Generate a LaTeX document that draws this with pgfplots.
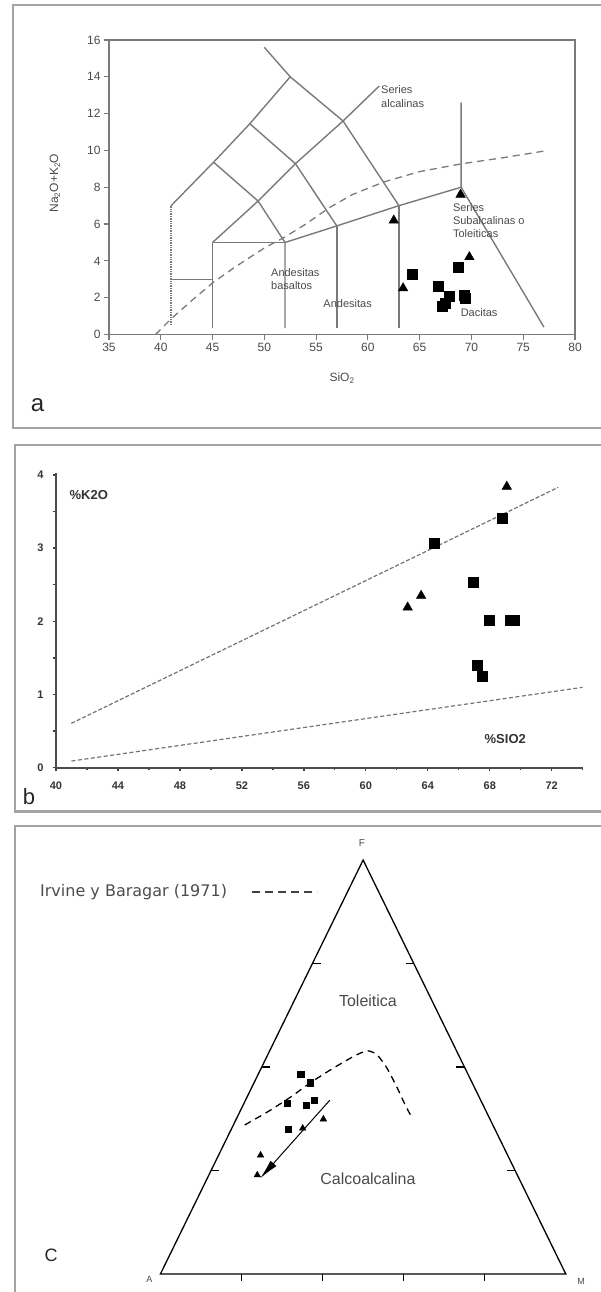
\documentclass[border=0pt]{standalone}
\usepackage{fontspec}
\setmainfont{Liberation Sans}
\newfontfamily\dejavu{DejaVu Sans}
\usepackage{pgfplots}
\pgfplotsset{compat=1.18}
\usetikzlibrary{arrows.meta}
\definecolor{lgray}{HTML}{7A7A7A}
\definecolor{framegray}{HTML}{A3A3A3}
\definecolor{txtgray}{HTML}{4A4A4A}

\begin{document}
\begin{tikzpicture}
\path[use as bounding box] (0pt,0pt) rectangle (601pt,-1292pt);
% panel frames
\draw[framegray, line width=2.5pt] (13pt,-5pt) rectangle (612pt,-428pt);
\draw[framegray, line width=2.5pt] (15pt,-445pt) rectangle (612pt,-811.7pt);
\draw[framegray, line width=2.5pt] (15pt,-826pt) rectangle (612pt,-1310pt);

% ---------------- a: TAS ----------------
\begin{axis}[
  at={(109pt,-334.5pt)}, anchor=south west,
  scale only axis, width=466pt, height=294.5pt,
  xmin=35, xmax=80, ymin=0, ymax=16,
  xtick={35,40,...,80}, ytick={0,2,...,16},
  tick align=outside, xtick pos=bottom, ytick pos=left,
  major tick length=5pt,
  axis line style={lgray, line width=1.6pt},
  tick style={lgray, line width=1.2pt},
  ticklabel style={font=\fontsize{12}{12}\selectfont, text=txtgray},
  /pgf/number format/assume math mode=true,
  xlabel={SiO\textsubscript{2}},
  ylabel={Na\textsubscript{2}O+K\textsubscript{2}O},
  label style={font=\fontsize{12}{12}\selectfont, text=txtgray},
  xlabel style={at={(axis description cs:0.5,-0.148)}, anchor=center},
  ylabel style={at={(axis description cs:-0.116,0.514)}, anchor=center},
  clip=false,
]
\addplot[lgray, line width=1.4pt] coordinates {(41,3) (45,3)};
\addplot[lgray, line width=1.4pt] coordinates {(45,0.35) (45,5) (52,5)};
\addplot[lgray, line width=1.4pt] coordinates {(52,0.35) (52,5) (57,5.9) (63,7) (69,8) (69,12.6)};
\addplot[lgray, line width=1.4pt] coordinates {(57,0.35) (57,5.9)};
\addplot[lgray, line width=1.4pt] coordinates {(63,0.35) (63,7)};
\addplot[lgray, line width=1.4pt] coordinates {(69,8) (77,0.4)};
\addplot[lgray, line width=1.4pt] coordinates {(41,7) (45.1,9.36) (48.6,11.45) (52.5,14)};
\addplot[lgray, line width=1.4pt] coordinates {(50,15.6) (52.5,14) (57.6,11.6) (63,7)};
\addplot[lgray, line width=1.4pt] coordinates {(45.1,9.36) (49.4,7.25) (52,5)};
\addplot[lgray, line width=1.4pt] coordinates {(48.6,11.45) (53,9.28) (57,5.9)};
\addplot[lgray, line width=1.4pt] coordinates {(45,5) (49.4,7.25) (53,9.28) (57.6,11.6) (61.1,13.5)};
\addplot[lgray, line width=1.4pt, densely dotted] coordinates {(41,0.5) (41,7)};
\addplot[lgray, line width=1.3pt, dash pattern=on 7pt off 5pt] coordinates {
  (39.5,0) (41,0.85) (43,1.85) (45,2.8) (47,3.6) (50,4.7) (52,5.3) (54,6.0)
  (56.3,6.9) (58.5,7.6) (61.6,8.3) (65,8.85) (69,9.27) (73,9.6) (77.4,10.0)};
\addplot[only marks, mark=square*, mark size=5pt, black] coordinates {
  (64.3,3.30) (68.7,3.66) (66.8,2.64) (67.85,2.10) (69.3,2.12) (69.4,1.95) (67.2,1.55) (67.5,1.70)};
\addplot[only marks, mark=triangle*, mark size=5.5pt, black] coordinates {
  (62.5,6.2) (63.4,2.52) (68.95,7.6) (69.8,4.21)};
\begin{scope}[every node/.style={font=\fontsize{11}{13.4}\selectfont, text=txtgray, align=left, inner sep=0pt, anchor=west}]
\node at (axis cs:61.27,12.92) {Series\\alcalinas};
\node at (axis cs:68.2,6.19) {Series\\Subalcalinas o\\Toleiticas};
\node at (axis cs:50.64,3.0) {Andesitas\\basaltos};
\node at (axis cs:55.69,1.66) {Andesitas};
\node at (axis cs:68.95,1.19) {Dacitas};
\end{scope}
\end{axis}
\node[font=\fontsize{24}{24}\selectfont, text=black!85] at (37.5pt,-405pt) {a};

% ---------------- b: K2O vs SiO2 ----------------
\begin{axis}[
  at={(56pt,-767.7pt)}, anchor=south west,
  scale only axis, width=526.7pt, height=295pt,
  xmin=40, xmax=74, ymin=0, ymax=4.03,
  axis lines=left, axis line style={-, black!70, line width=1.8pt},
  xtick={40,44,...,72}, minor xtick={42,46,...,74},
  ytick={0,1,...,4}, minor ytick={0.5,1.5,2.5,3.5},
  tick align=outside, major tick length=3pt, minor tick length=2.5pt,
  tick style={black!75, line width=1.3pt},
  ticklabel style={font=\bfseries\fontsize{11}{11}\selectfont, text=black!80},
  /pgf/number format/assume math mode=true,
  xticklabel style={yshift=-8pt},
  yticklabel style={xshift=-6pt},
  clip=false,
]
\addplot[black!55, line width=1.2pt, dash pattern=on 4pt off 2pt] coordinates {(40.99,0.606) (72.42,3.83)};
\addplot[black!55, line width=1.2pt, dash pattern=on 4pt off 2.5pt] coordinates {(41,0.091) (73.99,1.098)};
\addplot[only marks, mark=square*, mark size=5pt, black] coordinates {
  (64.39,3.07) (68.78,3.41) (66.92,2.53) (67.98,2.01) (69.3,2.02) (69.6,2.02) (67.16,1.40) (67.49,1.25)};
\addplot[only marks, mark=triangle*, mark size=5.5pt, black] coordinates {
  (62.70,2.19) (63.57,2.35) (69.10,3.84)};
\node[anchor=west, inner sep=0pt, font=\bfseries\fontsize{13}{13}\selectfont, text=black!80] at (axis cs:40.87,3.73) {\%K2O};
\node[anchor=west, inner sep=0pt, font=\bfseries\fontsize{13}{13}\selectfont, text=black!80] at (axis cs:67.66,0.387) {\%SIO2};
\end{axis}
\node[font=\fontsize{22}{22}\selectfont, text=black!85] at (29pt,-797pt) {b};

% ---------------- c: AFM ----------------
\begin{axis}[
  at={(160.4pt,-1274pt)}, anchor=south west,
  scale only axis, width=405.4pt, height=414pt,
  xmin=0, xmax=1, ymin=0, ymax=1,
  hide axis, clip=false,
]
\addplot[black, line width=1.3pt, line join=miter] coordinates {(0,0) (1,0) (0.5,1) (0,0) (0.01,0)};
\addplot[black, line width=1.2pt, unbounded coords=jump] coordinates {
  (0.125,0.25) (0.145,0.25) (nan,nan)
  (0.25,0.5) (0.27,0.5) (nan,nan)
  (0.375,0.75) (0.395,0.75) (nan,nan)
  (0.875,0.25) (0.855,0.25) (nan,nan)
  (0.75,0.5) (0.73,0.5) (nan,nan)
  (0.625,0.75) (0.605,0.75) (nan,nan)
  (0.2,0) (0.2,-0.017) (nan,nan)
  (0.4,0) (0.4,-0.017) (nan,nan)
  (0.6,0) (0.6,-0.017) (nan,nan)
  (0.8,0) (0.8,-0.017)};
\addplot[black, line width=1.3pt, dash pattern=on 7pt off 5pt, smooth, tension=0.4] coordinates {
  (0.208,0.360) (0.265,0.392) (0.322,0.428) (0.370,0.462) (0.426,0.497)
  (0.483,0.529) (0.512,0.539) (0.535,0.529) (0.559,0.497) (0.583,0.452)
  (0.602,0.412) (0.618,0.382)};
\addplot[black, line width=1pt, -{Latex[length=20pt,width=8pt]}] coordinates {(0.418,0.420) (0.246,0.231)};
\addplot[only marks, mark=square*, mark size=3.2pt, black] coordinates {
  (0.346,0.483) (0.369,0.462) (0.313,0.412) (0.359,0.408) (0.379,0.420) (0.315,0.350)};
\addplot[only marks, mark=triangle*, mark size=3.8pt, black] coordinates {
  (0.402,0.374) (0.351,0.352) (0.247,0.287) (0.239,0.239)};
\node[font=\fontsize{16}{16}\selectfont, text=txtgray] at (axis cs:0.512,0.660) {Toleitica};
\node[font=\fontsize{16}{16}\selectfont, text=txtgray] at (axis cs:0.512,0.229) {Calcoalcalina};
\node[font=\fontsize{10}{10}\selectfont, text=txtgray] at (axis cs:0.497,1.040) {F};
\node[font=\fontsize{9}{9}\selectfont, text=txtgray] at (axis cs:-0.027,-0.014) {A};
\node[font=\fontsize{9}{9}\selectfont, text=txtgray] at (axis cs:1.038,-0.019) {M};
\end{axis}
\node[anchor=west, inner sep=0pt, font=\dejavu\fontsize{16}{16}\selectfont, text=black!70] at (40pt,-891.7pt) {Irvine y Baragar (1971)};
\draw[black!75, line width=1.3pt, dash pattern=on 8pt off 5pt] (252pt,-892pt) -- (317pt,-892pt);
\node[font=\fontsize{18}{18}\selectfont, text=black!85] at (51pt,-1255.5pt) {C};
\end{tikzpicture}
\end{document}
